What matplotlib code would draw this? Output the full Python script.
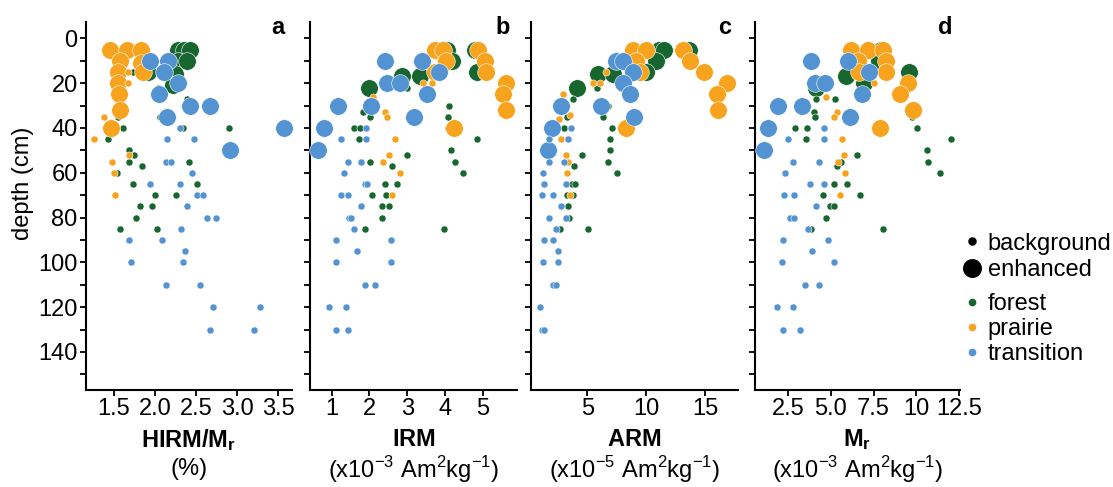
import matplotlib
matplotlib.use('Agg')
import matplotlib.pyplot as plt
from matplotlib.lines import Line2D
import numpy as np

plt.rcParams['font.family'] = ['Liberation Sans', 'DejaVu Sans']
plt.rcParams['mathtext.fontset'] = 'custom'
plt.rcParams['mathtext.rm'] = 'Liberation Sans'
plt.rcParams['mathtext.bf'] = 'Liberation Sans:bold'

# ---- (depth cm, value) pairs, per panel / site / layer ----
# a: HIRM/Mr (%)
hirm_forest_enh = [(5, 2.28), (5, 2.36), (5, 2.43), (10, 2.28), (10, 2.39), (15, 1.92),
                   (16, 2.24), (21, 2.22)]
hirm_forest_bg = [(15, 1.73), (22, 2.04), (27, 2.39), (35, 1.55), (35, 2.06), (40, 1.61),
                  (40, 2.34), (40, 2.90), (45, 1.43), (50, 1.69), (52, 1.75), (55, 1.68),
                  (55, 2.42), (57, 1.84), (60, 1.54), (65, 1.73), (65, 2.51), (70, 2.00),
                  (70, 2.26), (75, 1.82), (75, 1.96), (80, 1.77), (85, 1.58), (85, 2.03)]
hirm_prairie_enh = [(5, 1.45), (5, 1.66), (5, 1.83), (10, 1.57), (11, 1.83), (15, 1.55),
                    (15, 1.86), (20, 1.55), (25, 1.56), (32, 1.57), (40, 1.47)]
hirm_prairie_bg = [(15, 1.67), (20, 1.67), (35, 1.38), (45, 1.26), (52, 1.68), (55, 1.48),
                   (60, 1.50), (70, 1.51)]
hirm_trans_enh = [(10, 1.94), (10, 2.16), (15, 2.11), (20, 2.28), (25, 2.05), (30, 2.43),
                  (30, 2.67), (35, 2.15), (40, 3.57), (50, 2.92)]
hirm_trans_bg = [(40, 2.30), (45, 2.15), (45, 2.47), (55, 2.13), (55, 2.20), (60, 2.45),
                 (65, 1.94), (65, 2.30), (70, 2.51), (70, 2.58), (75, 2.39), (80, 2.64),
                 (80, 2.74), (85, 2.32), (90, 1.69), (90, 2.08), (95, 2.37), (100, 1.71),
                 (100, 2.34), (110, 2.13), (110, 2.55), (120, 2.71), (120, 3.28),
                 (130, 2.67), (130, 3.21)]

# b: IRM (x10^-3 Am2/kg)
irm_forest_enh = [(5, 3.94), (5, 4.05), (10, 4.17), (5, 4.78), (15, 4.83), (17, 2.87),
                  (17, 3.33), (22, 1.99)]
irm_forest_bg = [(22, 3.00), (27, 2.08), (33, 1.83), (35, 2.01), (40, 1.59), (40, 1.75),
                 (45, 1.73), (30, 4.10), (35, 4.08), (40, 4.08), (45, 4.84), (50, 4.15),
                 (52, 3.00), (55, 2.01), (55, 4.25), (57, 2.61), (60, 4.47), (65, 2.41),
                 (65, 2.73), (70, 2.08), (70, 2.45), (75, 2.32), (75, 2.51), (80, 2.34),
                 (85, 1.88), (85, 3.96)]
irm_prairie_enh = [(5, 3.73), (5, 3.94), (10, 4.03), (15, 3.73), (5, 4.87), (10, 5.05),
                   (15, 5.09), (20, 5.62), (25, 5.53), (32, 5.62), (40, 4.23)]
irm_prairie_bg = [(20, 3.42), (20, 3.66), (26, 2.10), (33, 2.41), (35, 2.47), (45, 2.67),
                  (52, 2.51), (55, 2.36), (60, 2.80), (70, 2.61)]
irm_trans_enh = [(10, 2.41), (10, 3.40), (15, 3.84), (20, 2.47), (20, 2.80), (25, 3.51),
                 (30, 1.17), (30, 2.05), (35, 3.17), (40, 0.80), (50, 0.65)]
irm_trans_bg = [(40, 1.92), (45, 1.24), (45, 1.92), (55, 1.44), (55, 1.79), (60, 1.33),
                (65, 1.88), (65, 1.94), (70, 1.25), (70, 1.44), (75, 1.79), (80, 1.46),
                (80, 1.51), (85, 1.60), (90, 1.13), (90, 2.58), (95, 1.66), (100, 1.13),
                (100, 2.56), (110, 1.88), (110, 2.14), (120, 0.93), (120, 1.37),
                (130, 1.11), (130, 1.44)]

# c: ARM (x10^-5 Am2/kg)
arm_forest_enh = [(5, 11.12), (5, 11.55), (10, 10.85), (15, 10.0), (5, 13.65), (16, 5.93),
                  (16, 7.19), (22, 4.16)]
arm_forest_bg = [(22, 5.84), (27, 3.77), (30, 6.77), (35, 3.27), (35, 6.35), (40, 3.04),
                 (40, 7.06), (45, 3.39), (45, 6.97), (50, 6.90), (52, 4.53), (55, 6.78),
                 (57, 3.87), (60, 7.52), (65, 3.67), (65, 3.95), (70, 3.24), (70, 3.81),
                 (75, 3.33), (80, 3.44), (85, 2.68), (85, 5.03)]
arm_prairie_enh = [(5, 8.88), (5, 10.0), (10, 9.16), (15, 9.5), (5, 13.09), (10, 13.7),
                   (15, 14.92), (20, 16.9), (25, 16.04), (32, 16.12), (40, 8.32)]
arm_prairie_bg = [(15, 6.63), (20, 5.50), (20, 6.07), (25, 2.98), (34, 3.54), (36, 2.56),
                  (45, 2.76), (52, 3.16), (55, 3.39), (60, 3.24), (70, 3.53)]
arm_trans_enh = [(10, 7.42), (10, 8.03), (15, 8.88), (20, 8.03), (25, 8.60), (30, 6.13),
                 (30, 2.76), (35, 8.93), (40, 2.00), (50, 1.63)]
arm_trans_bg = [(40, 3.60), (45, 1.72), (45, 3.40), (55, 1.77), (55, 3.05), (60, 1.26),
                (65, 1.32), (65, 3.16), (70, 1.18), (70, 2.05), (75, 2.76), (80, 1.74),
                (80, 3.19), (85, 2.31), (90, 1.32), (90, 2.05), (95, 2.54), (100, 1.20),
                (100, 2.48), (110, 2.11), (110, 2.31), (120, 0.98), (130, 1.12), (130, 1.35)]

# d: Mr (x10^-3 Am2/kg)
mr_forest_enh = [(5, 7.15), (5, 7.93), (10, 7.83), (20, 6.96), (17, 5.90), (22, 4.15),
                 (15, 9.58), (32, 9.83)]
mr_forest_bg = [(27, 4.15), (27, 5.21), (33, 4.03), (35, 4.09), (35, 9.74), (40, 2.89),
                (40, 3.59), (40, 10.06), (45, 3.56), (45, 12.03), (50, 10.60), (52, 6.53),
                (55, 10.66), (55, 5.57), (57, 5.35), (60, 11.39), (65, 5.18), (65, 5.94),
                (70, 4.54), (70, 6.71), (75, 4.97), (75, 5.16), (80, 4.69), (85, 3.86),
                (85, 8.03)]
mr_prairie_enh = [(5, 6.19), (5, 7.15), (5, 8.02), (10, 6.57), (10, 8.22), (15, 6.67),
                  (15, 8.22), (20, 9.52), (25, 9.05), (32, 9.83), (40, 7.89)]
mr_prairie_bg = [(20, 7.54), (26, 4.73), (33, 5.37), (35, 5.16), (45, 5.64), (52, 5.76),
                 (55, 5.41), (60, 5.82), (70, 5.55)]
mr_trans_enh = [(10, 3.86), (10, 5.99), (15, 7.25), (20, 4.05), (20, 4.63), (25, 6.80),
                (30, 1.88), (30, 3.28), (35, 6.09), (40, 1.34), (50, 1.10)]
mr_trans_bg = [(40, 4.60), (45, 2.50), (45, 4.60), (55, 2.81), (55, 4.31), (60, 2.34),
               (65, 3.80), (65, 4.60), (70, 2.25), (70, 2.85), (75, 4.11), (80, 2.60),
               (80, 2.85), (85, 3.67), (90, 2.17), (90, 4.83), (95, 3.88), (100, 2.11),
               (100, 5.16), (110, 3.47), (110, 4.29), (120, 1.82), (120, 2.79),
               (130, 2.21), (130, 3.18)]

sites = ['forest', 'prairie', 'transition']
site_colors = {'forest': '#17652f', 'prairie': '#f7a31e', 'transition': '#5393d2'}
S_BG, S_ENH = 26, 160

panels = [
    dict(letter='a', title=r'$\mathbf{HIRM/M_r}$', unit='(%)',
         xlim=(1.16, 3.67), xticks=[1.5, 2.0, 2.5, 3.0, 3.5],
         xtl=['1.5', '2.0', '2.5', '3.0', '3.5'],
         data={'forest': (hirm_forest_bg, hirm_forest_enh),
               'prairie': (hirm_prairie_bg, hirm_prairie_enh),
               'transition': (hirm_trans_bg, hirm_trans_enh)}),
    dict(letter='b', title=r'$\mathbf{IRM}$', unit=r'(x10$^{-3}$ Am$^2$kg$^{-1}$)',
         xlim=(0.43, 5.9), xticks=[1, 2, 3, 4, 5], xtl=['1', '2', '3', '4', '5'],
         data={'forest': (irm_forest_bg, irm_forest_enh),
               'prairie': (irm_prairie_bg, irm_prairie_enh),
               'transition': (irm_trans_bg, irm_trans_enh)}),
    dict(letter='c', title=r'$\mathbf{ARM}$', unit=r'(x10$^{-5}$ Am$^2$kg$^{-1}$)',
         xlim=(0.22, 17.8), xticks=[5, 10, 15], xtl=['5', '10', '15'],
         data={'forest': (arm_forest_bg, arm_forest_enh),
               'prairie': (arm_prairie_bg, arm_prairie_enh),
               'transition': (arm_trans_bg, arm_trans_enh)}),
    dict(letter='d', title=r'$\mathbf{M_r}$', unit=r'(x10$^{-3}$ Am$^2$kg$^{-1}$)',
         xlim=(0.56, 12.55), xticks=[2.5, 5.0, 7.5, 10, 12.5],
         xtl=['2.5', '5.0', '7.5', '10', '12.5'],
         data={'forest': (mr_forest_bg, mr_forest_enh),
               'prairie': (mr_prairie_bg, mr_prairie_enh),
               'transition': (mr_trans_bg, mr_trans_enh)}),
]

W, H = 1113, 487
fig = plt.figure(figsize=(W / 100, H / 100), dpi=100)
lefts = [86, 310, 531, 755]
rights = [292, 517, 738, 960]
top_px, bot_px = 22, 390
FS = 17

for i, p in enumerate(panels):
    ax = fig.add_axes([lefts[i] / W, (H - bot_px) / H,
                       (rights[i] - lefts[i]) / W, (bot_px - top_px) / H])
    for site in sites:
        bg, enh = p['data'][site]
        for pts, s in ((enh, S_ENH), (bg, S_BG)):
            arr = np.array(pts)
            ax.scatter(arr[:, 1], arr[:, 0], s=s, color=site_colors[site],
                       edgecolors='white', linewidths=0.4, zorder=3, clip_on=False)
    ax.set_xlim(*p['xlim'])
    ax.set_ylim(157, -7.3)
    ax.set_xticks(p['xticks'])
    ax.set_xticklabels(p['xtl'])
    ax.set_yticks(np.arange(0, 151, 10))
    if i == 0:
        ax.set_yticklabels([str(v) if v % 20 == 0 else '' for v in range(0, 151, 10)])
        ax.set_ylabel('depth (cm)', fontsize=FS, labelpad=2)
        ax.yaxis.set_label_coords(-0.252, (bot_px - 183) / (bot_px - top_px))
    else:
        ax.set_yticklabels([])
    for side in ('top', 'right'):
        ax.spines[side].set_visible(False)
    for side in ('left', 'bottom'):
        ax.spines[side].set_linewidth(1.5)
    ax.tick_params(axis='both', length=4, width=1.3, labelsize=FS, pad=2)
    ax.text(0.965, 0.985, p['letter'], transform=ax.transAxes, ha='right', va='center',
            fontsize=FS, fontweight='bold')
    ax.text(0.5, -0.135, p['title'], transform=ax.transAxes, ha='center', va='center',
            fontsize=FS)
    ax.text(0.5, -0.215, p['unit'], transform=ax.transAxes, ha='center', va='center',
            fontsize=FS)

# legend: layer size, then site colour
size_handles = [Line2D([], [], ls='', marker='o', color='black', markersize=np.sqrt(S_BG)),
                Line2D([], [], ls='', marker='o', color='black', markersize=np.sqrt(S_ENH))]
fig.legend(size_handles, ['background', 'enhanced'], loc='center left',
           bbox_to_anchor=(958 / W, 1 - 257 / H), frameon=False, fontsize=FS,
           handletextpad=0.05, labelspacing=0.2, handlelength=1.2,
           borderaxespad=0, borderpad=0)
site_handles = [Line2D([], [], ls='', marker='o', color=site_colors[s], markersize=4.5)
                for s in sites]
fig.legend(site_handles, sites, loc='center left', bbox_to_anchor=(958 / W, 1 - 329 / H),
           frameon=False, fontsize=FS, handletextpad=0.05, labelspacing=0.12,
           handlelength=1.2, borderaxespad=0, borderpad=0)

fig.savefig('out.png', dpi=100)
